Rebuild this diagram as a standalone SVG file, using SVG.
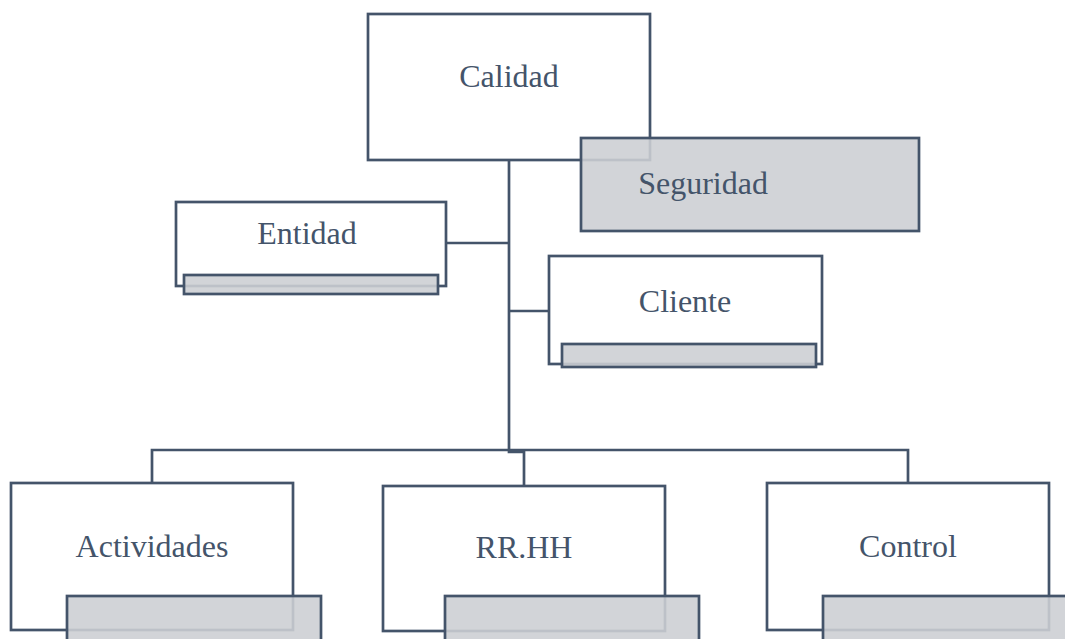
<svg xmlns="http://www.w3.org/2000/svg" width="1065" height="639" viewBox="0 0 1065 639">
<style>
.box{fill:#ffffff;stroke:#44546a;stroke-width:2.7}
.gray{fill:#cdcfd3;fill-opacity:0.89;stroke:#44546a;stroke-width:2.7}
.lbl{font-size:32px;fill:#44546a;text-anchor:middle}
.conn{fill:none;stroke:#44546a;stroke-width:2.7}
</style>
<rect width="1065" height="639" fill="#ffffff"/>
<g id="connectors">
<path class="conn" d="M509,160 V452 H524 V486"/>
<path class="conn" d="M446,243 H509"/>
<path class="conn" d="M509,311 H549"/>
<path class="conn" d="M152,483 V450 H908 V483"/>
</g>
<g id="calidad">
<rect class="box" x="368" y="14" width="282" height="146"/>
<text class="lbl" font-family="Liberation Serif" x="509" y="87">Calidad</text>
</g>
<g id="seguridad">
<rect class="gray" x="581" y="138" width="338" height="93"/>
<text class="lbl" font-family="Liberation Serif" x="703" y="194">Seguridad</text>
</g>
<g id="entidad">
<rect class="box" x="176" y="202" width="270" height="84"/>
<rect class="gray" x="184" y="275" width="254" height="19"/>
<text class="lbl" font-family="Liberation Serif" x="307" y="244">Entidad</text>
</g>
<g id="cliente">
<rect class="box" x="549" y="256" width="273" height="108"/>
<rect class="gray" x="562" y="344" width="254" height="23"/>
<text class="lbl" font-family="Liberation Serif" x="685" y="312">Cliente</text>
</g>
<g id="actividades">
<rect class="box" x="11" y="483" width="282" height="147"/>
<rect class="gray" x="67" y="596" width="254" height="60"/>
<text class="lbl" font-family="Liberation Serif" x="152" y="557">Actividades</text>
</g>
<g id="rrhh">
<rect class="box" x="383" y="486" width="282" height="145"/>
<rect class="gray" x="445" y="596" width="254" height="60"/>
<text class="lbl" font-family="Liberation Serif" x="524" y="558">RR.HH</text>
</g>
<g id="control">
<rect class="box" x="767" y="483" width="282" height="147"/>
<rect class="gray" x="823" y="596" width="254" height="60"/>
<text class="lbl" font-family="Liberation Serif" x="908" y="557">Control</text>
</g>
</svg>
